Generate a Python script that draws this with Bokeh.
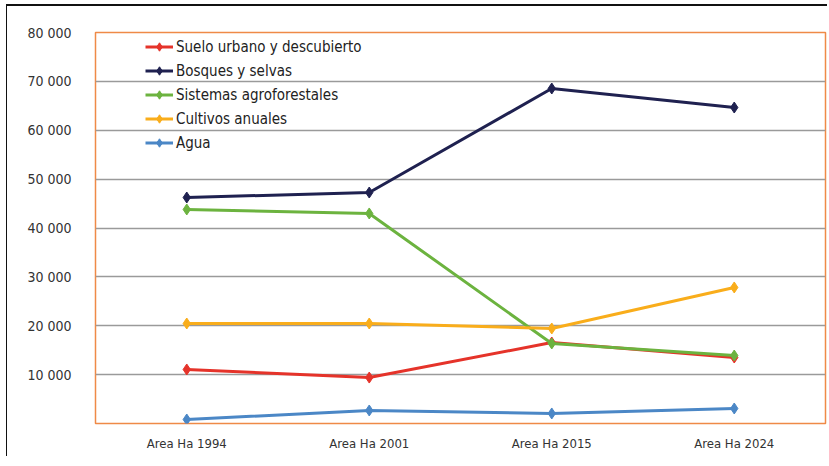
from bokeh.plotting import figure
from bokeh.embed import file_html
from bokeh.resources import INLINE
from bokeh.models import FixedTicker, Legend, LegendItem, Range1d

categories = ["Area Ha 1994", "Area Ha 2001", "Area Ha 2015", "Area Ha 2024"]
series_names = ["Suelo urbano y descubierto", "Bosques y selvas", "Sistemas agroforestales",
                "Cultivos anuales", "Agua"]
suelo = [11050, 9400, 16570, 13500]
bosques = [46240, 47260, 68540, 64650]
sistemas = [43790, 42970, 16370, 13910]
cultivos = [20460, 20460, 19440, 27830]
agua = [820, 2660, 2050, 3070]
y_ticks = [0, 10000, 20000, 30000, 40000, 50000, 60000, 70000, 80000]
y_tick_labels = ["", "10 000", "20 000", "30 000", "40 000", "50 000", "60 000", "70 000", "80 000"]

colors = ["#e5332a", "#1f2150", "#6cb33f", "#f9ad1b", "#4b87c6"]
all_series = [suelo, bosques, sistemas, cultivos, agua]

FONT = "'DejaVu Sans Condensed', 'Liberation Sans', sans-serif"

p = figure(x_range=categories, width=821, height=452, output_backend="svg",
           toolbar_location=None, min_border_left=88, min_border_right=3,
           min_border_top=26, min_border_bottom=35)
p.y_range = Range1d(0, 80000)
p.styles = {"border-top": "2px solid #111111", "border-left": "1px solid #111111",
            "margin-top": "4px", "margin-left": "6px"}

p.outline_line_color = "#ef8a47"
p.outline_line_width = 1.5
p.background_fill_color = "white"
p.border_fill_color = "white"

p.xgrid.grid_line_color = None
p.ygrid.grid_line_color = "#9a9a9a"
p.ygrid.grid_line_width = 1.5

p.yaxis.ticker = FixedTicker(ticks=y_ticks)
p.yaxis.major_label_overrides = {t: l for t, l in zip(y_ticks, y_tick_labels)}
for ax in (p.xaxis[0], p.yaxis[0]):
    ax.axis_line_color = None
    ax.major_tick_line_color = None
    ax.minor_tick_line_color = None
    ax.major_label_text_font = FONT
    ax.major_label_text_color = "#333333"
p.yaxis.major_label_text_font_size = "14px"
p.xaxis.major_label_text_font_size = "13px"
p.yaxis.major_label_standoff = 18
p.xaxis.major_label_standoff = 6

items = []
for name, vals, c in zip(series_names, all_series, colors):
    r1 = p.line(categories, vals, line_color=c, line_width=3)
    r2 = p.scatter(categories, vals, marker="diamond", size=11, fill_color=c, line_color=c)
    items.append(LegendItem(label=name, renderers=[r1, r2]))

legend = Legend(items=items, location=(50, 270), orientation="vertical",
                background_fill_alpha=0, border_line_color=None,
                padding=0, margin=0, spacing=3, glyph_width=28, glyph_height=21,
                label_height=21, label_standoff=3,
                label_text_font=FONT, label_text_font_size="15px",
                label_text_color="#222222")
p.add_layout(legend, "center")

open("out.html", "w").write(file_html(p, INLINE))
